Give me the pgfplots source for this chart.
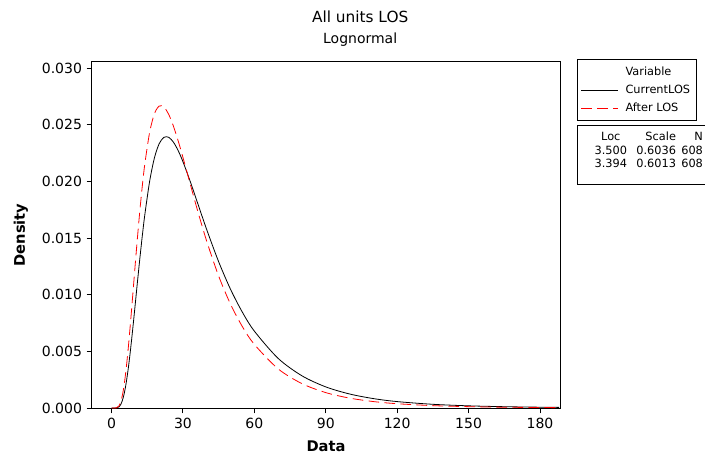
\documentclass[border=0pt]{standalone}
\usepackage{fontspec}
\setmainfont{DejaVu Sans}
\usepackage{pgfplots}
\usepackage{pgfplotstable}
\pgfplotsset{compat=1.18}

% lognormal fits, Loc/Scale as in the stats box
\pgfplotstableread{
x y
0 0
2 0.0000067
3 0.0000805
4 0.000359
5 0.000979
6 0.002008
7 0.003432
8 0.005180
9 0.007151
10 0.009239
11 0.011346
12 0.013392
13 0.015315
14 0.017071
16 0.019984
18 0.022049
20 0.023312
22 0.023881
24 0.023888
26 0.023459
28 0.022710
30 0.021738
33 0.020028
36 0.018184
40 0.015734
45 0.012909
50 0.010472
55 0.008441
60 0.006784
70 0.004377
80 0.002841
90 0.001863
100 0.001237
110 0.000831
120 0.000566
135 0.000326
150 0.000192
165 0.000116
180 0.0000719
188 0.0000561
}\currentlos

\pgfplotstableread{
x y
0 0
2 0.0000138
3 0.000151
4 0.000629
5 0.001622
6 0.003176
7 0.005216
8 0.007601
9 0.010171
10 0.012777
11 0.015293
12 0.017631
13 0.019728
14 0.021548
16 0.024310
18 0.025955
20 0.026639
22 0.026562
24 0.025917
26 0.024874
28 0.023570
30 0.022114
33 0.019815
36 0.017536
40 0.014707
45 0.011650
50 0.009155
55 0.007170
60 0.005612
70 0.003453
80 0.002150
90 0.001359
100 0.000873
110 0.000569
120 0.000377
135 0.000209
150 0.000119
165 0.0000699
180 0.0000420
188 0.0000323
}\afterlos

\begin{document}
\begin{tikzpicture}
\useasboundingbox (-69pt,-36.75pt) rectangle (459.75pt,306pt);
\begin{axis}[
    width=351pt, height=259.5pt, scale only axis,
    xmin=-8.2, xmax=188.4, ymin=0, ymax=0.03053,
    xtick={0,30,60,90,120,150,180},
    ytick={0,0.005,0.010,0.015,0.020,0.025,0.030},
    scaled y ticks=false,
    yticklabel style={/pgf/number format/fixed, /pgf/number format/fixed zerofill, /pgf/number format/precision=3},
    /pgf/number format/assume math mode=true,
    tick label style={font=\fontsize{10.5}{12}\selectfont},
    tick align=outside, tick pos=left,
    major tick length=4pt,
    axis line style={black, line width=0.75pt},
    every tick/.style={black, line width=0.75pt},
    xlabel={\textbf{Data}}, ylabel={\textbf{Density}},
    label style={font=\fontsize{11}{13}\selectfont},
    xlabel style={yshift=-2.5pt},
    ylabel style={yshift=3.5pt},
    clip=false,
    legend style={at={(rel axis cs:1.0363,1.008)}, anchor=north west, draw=black, line width=0.6pt,
        font=\fontsize{8.5}{10}\selectfont, inner xsep=2.5pt, inner ysep=3.5pt, row sep=1.5pt},
    legend cell align=left,
    legend image code/.code={\draw[#1] (0pt,0pt) -- (28pt,0pt);},
]
\addlegendimage{draw opacity=0}
\addlegendentry{\hspace{3pt}Variable}
\addplot[black, line width=0.6pt, smooth] table {\currentlos};
\addlegendentry{\hspace{3pt}CurrentLOS}
\addplot[red, line width=0.6pt, smooth, dash pattern=on 8pt off 4pt] table {\afterlos};
\addlegendentry{\hspace{3pt}After LOS}

\node[font=\fontsize{11.5}{13}\selectfont] at (rel axis cs:0.573,1) [yshift=33.75pt] {All units LOS};
\node[font=\fontsize{10.5}{12}\selectfont] at (rel axis cs:0.573,1) [yshift=17pt] {Lognormal};

\node[draw=black, line width=0.6pt, anchor=north west, minimum width=96pt, minimum height=44pt, inner sep=0pt]
    at (rel axis cs:1.0363,0.818) {};
\node[anchor=north east, inner sep=0pt, font=\fontsize{8.5}{10}\selectfont]
    at (rel axis cs:1.306,0.800) {\begin{tabular}{@{}c@{\hspace{7pt}}r@{\hspace{4pt}}r@{}}
    Loc & Scale & N\\
    3.500 & 0.6036 & 608\\
    3.394 & 0.6013 & 608
    \end{tabular}};
\end{axis}
\end{tikzpicture}
\end{document}
